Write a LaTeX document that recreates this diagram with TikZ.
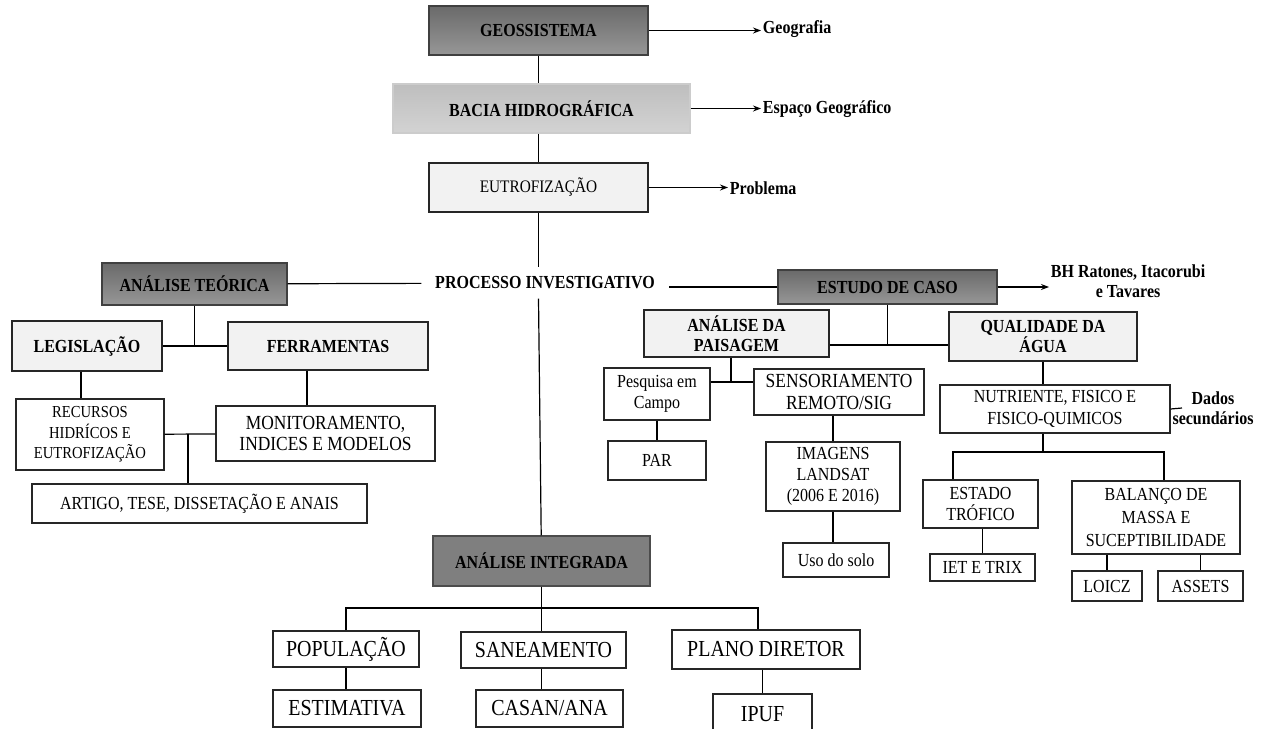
\documentclass[tikz,border=0pt]{standalone}
\usepackage{fontspec}
\setmainfont{Liberation Serif}[FakeStretch=0.87]
\usepackage{xcolor}
\usepackage{tikz}
\usetikzlibrary{arrows.meta}
\usetikzlibrary{positioning}

\definecolor{headtop}{HTML}{6A6A6A}
\definecolor{headbot}{HTML}{979797}
\definecolor{midtop}{HTML}{BEBEBE}
\definecolor{midbot}{HTML}{D3D3D3}
\definecolor{boxlight}{HTML}{F2F2F2}
\definecolor{intgray}{HTML}{7F7F7F}

\tikzset{boxsize/.style 2 args={minimum width=#1*0.75pt, minimum height=#2*0.75pt}}

\begin{document}
\begin{tikzpicture}[x=0.75pt, y=-0.75pt, line width=0.9pt, >={Stealth[length=6pt, width=4.5pt]}]
    \tikzstyle{every node}=[inner sep=0pt, align=center, font=\fontsize{13.8}{16}\selectfont]
    \tikzstyle{darkbox}=[draw=black!75, line width=0.8pt, top color=headtop, bottom color=headbot, font=\bfseries\fontsize{13.8}{15}\selectfont]
    \tikzstyle{midbox}=[draw=black!20, line width=0.8pt, top color=midtop, bottom color=midbot, font=\bfseries\fontsize{13.8}{15}\selectfont]
    \tikzstyle{lightbox}=[draw=black!85, line width=0.8pt, fill=boxlight, font=\bfseries\fontsize{13.8}{15}\selectfont]
    \tikzstyle{plainbox}=[draw=black!85, line width=0.8pt, fill=white]
    \tikzstyle{bigbox}=[plainbox, font=\fontsize{17.2}{19}\selectfont]
    \tikzstyle{intbox}=[draw=black!70, line width=0.8pt, fill=intgray, font=\bfseries\fontsize{13.8}{15}\selectfont]
    \tikzstyle{note}=[inner sep=1pt, font=\bfseries\fontsize{13.8}{15}\selectfont]

    \useasboundingbox (0,0) rectangle (1262,728);

    % top chain
    \node[darkbox, boxsize={219}{49}] (geo) at (538.5,30.5) {GEOSSISTEMA};
    \node[midbox, boxsize={297}{49}] (bacia) at (541.5,108.5) {BACIA HIDROGRÁFICA};
    \node[lightbox, boxsize={219}{49}, font=\fontsize{13.2}{15}\selectfont] (eutro) at (538.5,187.5) {EUTROFIZAÇÃO};
    \node[note, anchor=west] (geogr) at (761,29) {Geografia};
    \node[note, anchor=west] (espaco) at (761,109) {Espaço Geográfico};
    \node[note, anchor=west] (probl) at (728,188) {Problema};
    \draw (geo) -- (geo |- bacia.north);
    \draw (eutro |- bacia.south) -- (eutro);
    \draw[->] (geo.east) -- (geo.east -| geogr.west);
    \draw[->] (bacia.east) -- (bacia.east -| espaco.west);
    \draw[->] (eutro.east) -- (eutro.east -| probl.west);

    \node[fill=white, boxsize={246}{30}, font=\bfseries\fontsize{13.8}{15}\selectfont] (proc) at (545,283) {PROCESSO INVESTIGATIVO};
    \draw (eutro) -- (eutro |- proc.north);

    % theory side
    \node[darkbox, boxsize={185}{42}] (teor) at (194.5,284) {ANÁLISE TEÓRICA};
    \draw (teor) -- (proc);
    \node[lightbox, boxsize={150}{50}] (legis) at (87,346) {LEGISLAÇÃO};
    \node[lightbox, boxsize={200}{48}] (ferr) at (328,346) {FERRAMENTAS};
    \draw (legis) -- (ferr);
    \draw (teor) -- (teor |- legis);
    \node[plainbox, boxsize={148}{71}, font=\fontsize{12.6}{15.5}\selectfont] (recur) at (90,434.5) {RECURSOS\\HIDRÍCOS E\\EUTROFIZAÇÃO};
    \node[plainbox, boxsize={219}{55}, font=\fontsize{15}{15.5}\selectfont] (monit) at (325.5,433.5) {MONITORAMENTO,\\INDICES E MODELOS};
    \draw ([xshift=-4.5pt]legis.south) -- ([xshift=-4.5pt]legis.south |- recur.north);
    \draw ([xshift=-15.75pt]ferr.south) -- ([xshift=-15.75pt]ferr.south |- monit.north);
    \draw (recur) -- (monit);
    \node[plainbox, boxsize={335}{39}] (artigo) at (199.5,503.5) {ARTIGO, TESE, DISSETAÇÃO E ANAIS};
    \coordinate (jleft) at (188,434);
    \draw (jleft) -- (jleft |- artigo.north);

    % case study side
    \node[darkbox, boxsize={219}{34}] (estudo) at (887.5,287) {ESTUDO DE CASO};
    \draw (estudo.west) -- (estudo.west -| proc.east);
    \node[note, anchor=west] (bh) at (1049,281) {BH Ratones, Itacorubi\\e Tavares};
    \draw[->] (estudo.east) -- (estudo.east -| bh.west);
    \node[lightbox, boxsize={185}{47}] (paisag) at (736.5,333.5) {ANÁLISE DA\\PAISAGEM};
    \node[lightbox, boxsize={188}{49}] (quali) at (1043,336.5) {QUALIDADE DA\\ÁGUA};
    \coordinate (jcase) at (887.5,345);
    \draw (estudo) -- (jcase);
    \draw (paisag.east |- jcase) -- (quali.west |- jcase);

    \node[plainbox, boxsize={106}{52}] (pesq) at (657,394) {Pesquisa em\\Campo};
    \node[plainbox, boxsize={170}{46}, font=\fontsize{15}{16.5}\selectfont] (senso) at (839,392) {SENSORIAMENTO\\REMOTO/SIG};
    \coordinate (jland) at (731,382);
    \draw (paisag.south -| jland) -- (jland);
    \draw (pesq.east |- jland) -- (senso.west |- jland);
    \node[plainbox, boxsize={98}{39}] (par) at (657,460.5) {PAR};
    \draw (pesq) -- (par);
    \node[plainbox, boxsize={134}{69}] (imag) at (833,476.5) {IMAGENS\\LANDSAT\\(2006 E 2016)};
    \draw (imag |- senso.south) -- (imag);
    \node[plainbox, boxsize={106}{34}] (uso) at (836,560) {Uso do solo};
    \draw (imag) -- (imag |- uso.north);

    \node[plainbox, boxsize={230}{48}] (nutri) at (1055,409) {NUTRIENTE, FISICO E\\FISICO-QUIMICOS};
    \draw (quali) -- (quali |- nutri.north);
    \node[note] (dados) at (1213,408) {Dados\\secundários};
    \coordinate (dadosend) at (1182,408);
    \draw (nutri.east) -- (dadosend);
    \coordinate (jwater) at (1043,452);
    \coordinate (jwl) at (953,452);
    \coordinate (jwr) at (1164,452);
    \node[plainbox, boxsize={115}{48}] (estado) at (980.5,504) {ESTADO\\TRÓFICO};
    \node[plainbox, boxsize={168}{73}, font=\fontsize{13.8}{17}\selectfont] (balanco) at (1156,517.5) {BALANÇO DE\\MASSA E\\SUCEPTIBILIDADE};
    \draw (jwater |- nutri.south) -- (jwater);
    \draw (jwl |- estado.north) -- (jwl) -- (jwr) -- (jwr |- balanco.north);
    \node[plainbox, boxsize={105}{27}] (iet) at (982.5,567.5) {IET E TRIX};
    \draw (iet |- estado.south) -- (iet);
    \node[plainbox, boxsize={70}{30}] (loicz) at (1107,586) {LOICZ};
    \node[plainbox, boxsize={85}{30}] (assets) at (1200.5,586) {ASSETS};
    \draw (loicz |- balanco.south) -- (loicz);
    \draw (assets |- balanco.south) -- (assets);

    % integrated analysis
    \node[intbox, boxsize={217}{50}] (integ) at (541.5,561) {ANÁLISE INTEGRADA};
    \draw (eutro |- proc.south) -- (integ);
    \coordinate (jint) at (541.5,608);
    \coordinate (jintr) at (758,608);
    \node[bigbox, boxsize={146}{36}] (pop) at (346,649) {POPULAÇÃO};
    \node[bigbox, boxsize={165}{36}] (san) at (543.5,650) {SANEAMENTO};
    \node[bigbox, boxsize={188}{39}] (plano) at (766,649.5) {PLANO DIRETOR};
    \draw (integ) -- (jint);
    \draw (pop) -- (pop |- jint) -- (jintr) -- (jintr |- plano.north);
    \draw (jint) -- (jint |- san.north);
    \node[bigbox, boxsize={148}{37}] (estim) at (347,708.5) {ESTIMATIVA};
    \node[bigbox, boxsize={147}{37}] (casan) at (549.5,708.5) {CASAN/ANA};
    \node[bigbox, boxsize={99}{40}] (ipuf) at (762.5,714) {IPUF};
    \draw (pop) -- (pop |- estim.north);
    \draw (jint |- san.south) -- (jint |- casan.north);
    \draw (ipuf |- plano.south) -- (ipuf);
\end{tikzpicture}
\end{document}
